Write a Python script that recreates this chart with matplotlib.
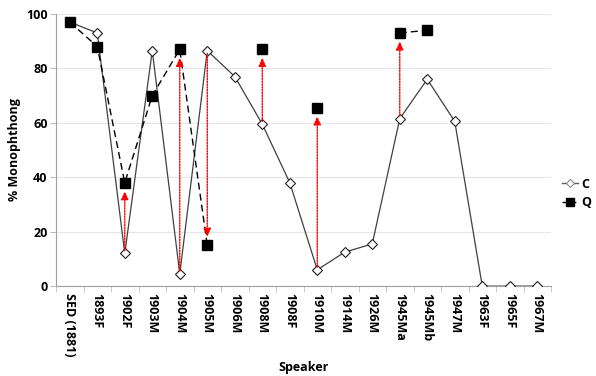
import matplotlib
matplotlib.use("Agg")
import matplotlib.pyplot as plt
from matplotlib.lines import Line2D
import numpy as np

speakers = ["SED (1881)", "1893F", "1902F", "1903M", "1904M", "1905M", "1906M",
            "1908M", "1908F", "1910M", "1914M", "1926M", "1945Ma", "1945Mb",
            "1947M", "1963F", "1965F", "1967M"]
c_vals = [97, 93, 12, 86.5, 4.5, 86.5, 77, 59.5, 38, 6, 12.5, 15.5, 61.5, 76,
          60.5, 0, 0, 0]
q_vals = [97, 88, 38, 70, 87, 15, np.nan, 87, np.nan, 65.5, np.nan, np.nan,
          93, 94, np.nan, np.nan, np.nan, np.nan]
arrow_idx = [2, 4, 5, 7, 9, 12]
y_ticks = [0, 20, 40, 60, 80, 100]

plt.rcParams['font.family'] = ['Open Sans', 'DejaVu Sans']
fig = plt.figure(figsize=(5.96, 3.76), dpi=100)
ax = fig.add_axes([0.094, 0.239, 0.8305, 0.724])

x = np.arange(len(speakers))
ax.plot(x, c_vals, color='#404040', lw=0.9, marker='D', ms=5.5,
        mfc='white', mec='#202020', mew=0.8, label='C', zorder=3)
ax.plot(x, q_vals, color='black', lw=1.0, ls=(0, (5, 3)), marker='s', ms=7.5,
        mfc='black', mec='black', label='Q', zorder=4)

for i in arrow_idx:
    ax.annotate('', xy=(x[i], q_vals[i]), xytext=(x[i], c_vals[i]),
                arrowprops=dict(arrowstyle='-|>,head_length=0.5,head_width=0.22',
                                color='red', lw=1.0, ls=(0, (1, 1)),
                                shrinkA=2, shrinkB=6), zorder=5)

ax.set_xlim(-0.5, len(speakers) - 0.5)
ax.set_ylim(0, 100)
ax.set_yticks(y_ticks)
ax.set_yticklabels([str(v) for v in y_ticks], fontsize=9, fontweight='bold')
ax.set_xticks(x)
ax.set_xticklabels(speakers, rotation=270, fontsize=9, fontweight='bold')
ax.set_xticks(np.arange(-0.5, len(speakers), 1), minor=True)
ax.tick_params(axis='x', which='major', length=0, pad=5)
ax.tick_params(axis='x', which='minor', length=4, color='#BFBFBF')
ax.tick_params(axis='y', length=4, color='#BFBFBF', pad=2)
ax.grid(axis='y', color='#E6E6E6', lw=0.8)
ax.set_axisbelow(True)
for s in ['top', 'right']:
    ax.spines[s].set_visible(False)
for s in ['left', 'bottom']:
    ax.spines[s].set_color('#A0A0A0')
    ax.spines[s].set_linewidth(0.8)

ax.set_ylabel('% Monophthong', fontsize=9, fontweight='bold', labelpad=4)
ax.set_xlabel('Speaker', fontsize=9, fontweight='bold', labelpad=3)

handles = [
    Line2D([], [], color='#606060', lw=1.0, marker='D', ms=4, mfc='white',
           mec='#808080', mew=0.7),
    Line2D([], [], color='black', lw=1.0, ls=(0, (4, 2)), marker='s', ms=6,
           mfc='black', mec='black'),
]
fig.legend(handles, ['C', 'Q'], loc='center left',
           bbox_to_anchor=(562 / 596, 1 - 193.5 / 376), frameon=False,
           prop={'weight': 'bold', 'size': 9}, handlelength=1.3,
           handletextpad=0.2, labelspacing=0.45, borderpad=0, borderaxespad=0)

fig.savefig('out.png', dpi=100)
